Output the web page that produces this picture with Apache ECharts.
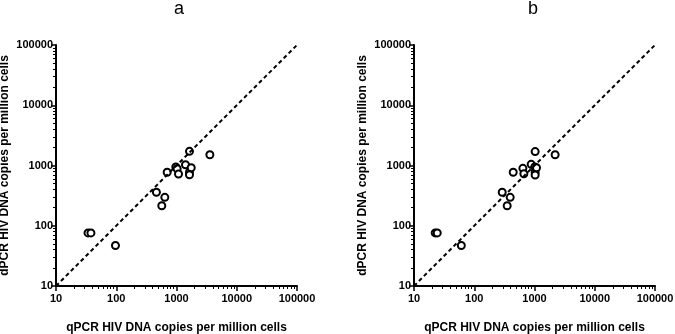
<!DOCTYPE html>
<html>
<head>
<meta charset="utf-8">
<script src="https://cdn.jsdelivr.net/npm/echarts@6/dist/echarts.min.js"></script>
<style>
  html, body { margin: 0; padding: 0; background: #fff; }
  #chart { width: 675px; height: 334px; }
</style>
</head>
<body>
<div id="chart"></div>
<script>
// panel a: qPCR vs dPCR
const qpcrA = [34, 38, 97, 464, 570, 640, 700, 975, 1025, 1080, 1410, 1643, 1643, 1643, 1755, 3580];
const dpcrA = [76, 76, 47, 359, 215, 296, 771, 944, 885, 722, 1030, 1720, 771, 703, 919, 1511];
// panel b
const qpcrB = [22.5, 24.3, 61, 291, 352, 395, 443, 641, 666, 880, 1025, 1025, 1025, 1010, 1080, 2200];
const dpcrB = [76, 76, 47, 359, 215, 296, 771, 898, 729, 1045, 1700, 771, 695, 944, 919, 1511];
// identity line (x = y)
const identityX = [10, 100000];
const identityY = [10, 100000];
const panelTitles = ["a", "b"];
const xName = "qPCR HIV DNA copies per million cells";
const yName = "dPCR HIV DNA copies per million cells";

const font = "Liberation Sans";
const zip = (xs, ys) => xs.map((x, i) => [x, ys[i]]);
const dashed = { color: "#000", width: 2, type: [4, 3] };

function logAxis(idx, name, isX) {
  return {
    type: "log",
    min: 10,
    max: 100000,
    gridIndex: idx,
    name: name,
    nameLocation: "middle",
    nameGap: isX ? 36 : 45,
    nameTextStyle: { fontFamily: font, fontWeight: "bold", fontSize: 12, color: "#000" },
    axisLine: { show: true, onZero: false, lineStyle: { color: "#000", width: 2 } },
    axisTick: { show: true, inside: false, length: 5, lineStyle: { color: "#000", width: 1.5 } },
    minorTick: { show: true, splitNumber: 9, length: 3, lineStyle: { color: "#000", width: 1 } },
    splitLine: { show: false },
    axisLabel: {
      fontFamily: font, fontWeight: "bold", fontSize: 11, color: "#000", margin: isX ? 7 : 3,
      formatter: (v) => String(Math.round(v)),
    },
  };
}

const grids = [
  { left: 56, right: 378, top: 45, bottom: 48, outerBoundsMode: "none" },
  { left: 414, right: 20, top: 45, bottom: 48, outerBoundsMode: "none" },
];

const identity = zip(identityX, identityY);

const series = [
  {
    type: "line",
    xAxisIndex: 0,
    yAxisIndex: 0,
    data: identity,
    symbol: "none",
    silent: true,
    lineStyle: dashed,
  },
  {
    type: "scatter",
    xAxisIndex: 0,
    yAxisIndex: 0,
    data: zip(qpcrA, dpcrA),
    symbol: "emptyCircle",
    symbolSize: 7,
    itemStyle: { color: "#000", opacity: 1, borderWidth: 1.3 },
  },
  {
    type: "scatter",
    xAxisIndex: 1,
    yAxisIndex: 1,
    data: zip(qpcrB, dpcrB),
    symbol: "emptyCircle",
    symbolSize: 7,
    itemStyle: { color: "#000", opacity: 1, borderWidth: 1.3 },
    // second panel's x = y line as a markLine (a 2nd line series hides the axis lines in v6)
    markLine: {
      silent: true,
      symbol: "none",
      label: { show: false },
      lineStyle: dashed,
      data: [[{ coord: identity[0] }, { coord: identity[1] }]],
    },
  },
];

const myChart = echarts.init(document.getElementById("chart"), null, { renderer: "canvas" });
myChart.setOption({
  animation: false,
  title: [
    { text: panelTitles[0], left: 174, top: -5, textAlign: "center",
      textStyle: { fontFamily: font, fontWeight: "normal", fontSize: 18, color: "#000" } },
    { text: panelTitles[1], left: 528, top: -5, textAlign: "center",
      textStyle: { fontFamily: font, fontWeight: "normal", fontSize: 18, color: "#000" } },
  ],
  grid: grids,
  xAxis: [logAxis(0, xName, true), logAxis(1, xName, true)],
  yAxis: [logAxis(0, yName, false), logAxis(1, yName, false)],
  series: series,
});
</script>
</body>
</html>
